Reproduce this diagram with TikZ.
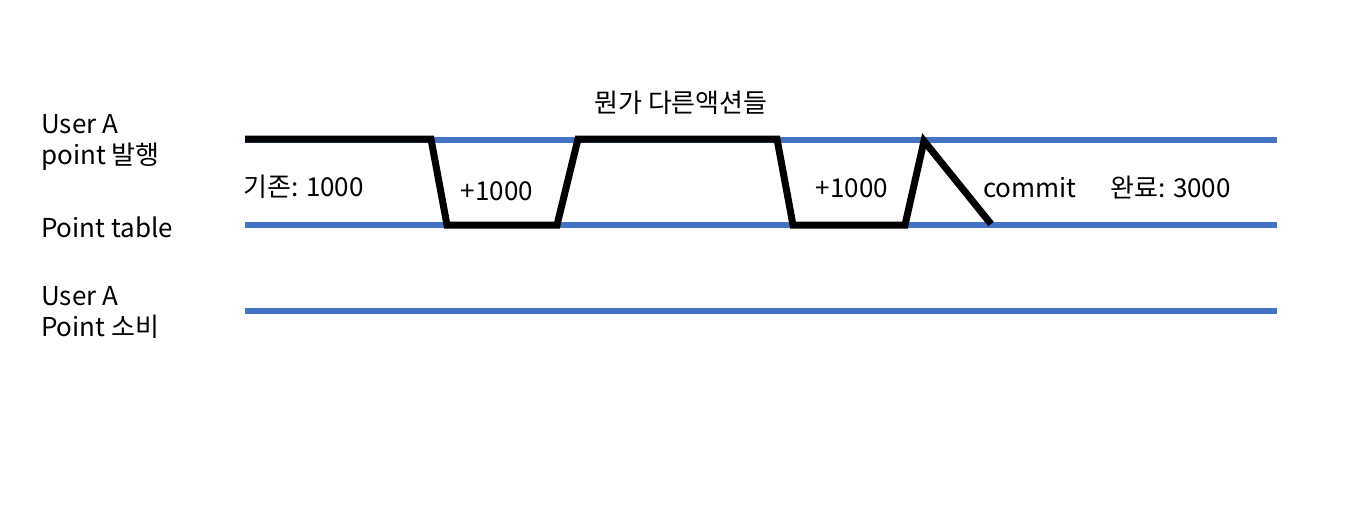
\documentclass[tikz,border=0pt]{standalone}
\usepackage{fontspec}
\setmainfont{Noto Sans CJK KR}
\usetikzlibrary{positioning}
\definecolor{laneblue}{HTML}{4472C4}

\begin{document}
\begin{tikzpicture}[
    x=1pt, y=-1pt,
    lane/.style={draw=laneblue, line width=6pt},
    flow/.style={draw=black, line width=7pt, line join=miter},
    label/.style={anchor=west, inner sep=0pt, align=left, font=\fontsize{26}{31}\selectfont},
    tag/.style={inner sep=0pt, font=\fontsize{26}{30}\selectfont},
]
\useasboundingbox (0,0) rectangle (1352,517);

% lanes
\coordinate (l1s) at (245,140); \coordinate (l1e) at (1277,140);
\coordinate (l2s) at (245,225); \coordinate (l2e) at (1277,225);
\coordinate (l3s) at (245,311); \coordinate (l3e) at (1277,311);
\draw[lane] (l1s) -- (l1e);
\draw[lane] (l2s) -- (l2e);
\draw[lane] (l3s) -- (l3e);

\node[label] (issue) at (41,142) {User A\\point 발행};
\node[label] (table) at (41,227) {Point table};
\node[label] (spend) at (41,312) {User A\\Point 소비};

% state line
\coordinate (p0) at (245,139);
\coordinate (p1) at (431,139);
\coordinate (p2) at (447,225);
\coordinate (p3) at (557,225);
\coordinate (p4) at (578,139);
\coordinate (p5) at (777,139);
\coordinate (p6) at (793,225);
\coordinate (p7) at (905,225);
\coordinate (p8) at (924,141);
\coordinate (p9) at (991,224);
\draw[flow] (p0) -- (p1) -- (p2) -- (p3) -- (p4) -- (p5) -- (p6) -- (p7) -- (p8) -- (p9);

\node[tag, anchor=west] (base) at (243,187) {기존: 1000};
\node[tag] (add1) at (497,191) {+1000};
\node[tag] (other) at (681,103) {뭔가 다른액션들};
\node[tag] (add2) at (852,188) {+1000};
\node[tag, anchor=west] (commit) at (983,188) {commit};
\node[tag, anchor=west] (done) at (1110,187) {완료: 3000};

\end{tikzpicture}
\end{document}
